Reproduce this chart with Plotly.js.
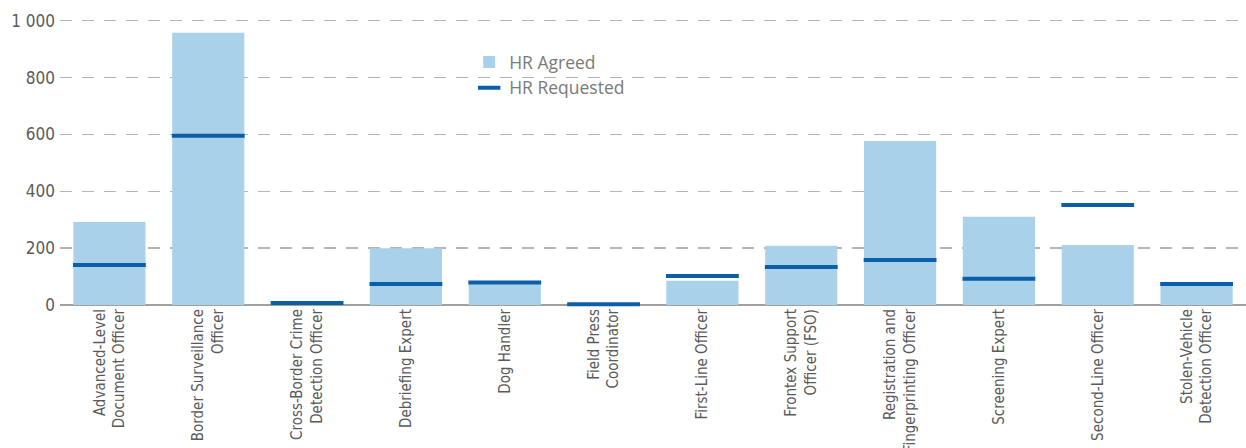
<!DOCTYPE html>
<html><head><meta charset="utf-8">
<script src="https://cdn.plot.ly/plotly-3.0.1.min.js"></script>
<style>body{margin:0;background:#fff}#c{width:1246px;height:448px}</style>
</head><body><div id="c"></div>
<script>
const categories = [
  "Advanced-Level<br>Document Officer",
  "Border Surveillance<br>Officer",
  "Cross-Border Crime<br>Detection Officer",
  "Debriefing Expert",
  "Dog Handler",
  "Field Press<br>Coordinator",
  "First-Line Officer",
  "Frontex Support<br>Officer (FSO)",
  "Registration and<br>Fingerprinting Officer",
  "Screening Expert",
  "Second-Line Officer",
  "Stolen-Vehicle<br>Detection Officer"
];
const hrAgreed    = [292, 958, 4, 200, 77, 1, 85, 208, 577, 310, 211, 70];
const hrRequested = [141, 595, 7, 74, 79, 3, 102, 134, 158, 92, 352, 74];
const yTickVals = [0, 200, 400, 600, 800, 1000];
const yTickText = ["0", "200", "400", "600", "800", "1 000"];

const fam = "'Liberation Sans Narrow', 'DejaVu Sans Condensed', sans-serif";

const data = [
  {type: "bar", name: "HR Agreed", x: categories, y: hrAgreed,
   marker: {color: "#a9d2ea"}, hoverinfo: "y"},
  {type: "scatter", mode: "markers", name: "HR Requested", x: categories, y: hrRequested,
   marker: {symbol: "line-ew-open", size: 52, color: "#0b5ea8", line: {color: "#0b5ea8", width: 4}},
   cliponaxis: false}
];
const layout = {
  width: 1246, height: 448,
  margin: {l: 60, r: 0, t: 15, b: 143},
  paper_bgcolor: "#fff", plot_bgcolor: "#fff",
  bargap: 0.27,
  showlegend: true,
  legend: {x: 0.345, y: 0.9, xanchor: "left", yanchor: "top", bgcolor: "rgba(0,0,0,0)",
           font: {family: "'Open Sans', 'Noto Sans', sans-serif", size: 17.5, color: "#7a7a7a"},
           itemwidth: 30},
  xaxis: {type: "category", tickangle: -90, tickfont: {family: fam, size: 15, color: "#5a5a5a"},
          showgrid: false, showline: false, ticks: "", range: [-0.5, 11.5], automargin: false},
  yaxis: {range: [0, 1020], tickvals: yTickVals, ticktext: yTickText,
          tickfont: {family: fam, size: 17, color: "#5a5a5a"},
          showgrid: true, gridcolor: "#b4b4b4", gridwidth: 1.5, griddash: "12px,10px",
          zeroline: true, zerolinecolor: "#a0a0a0", zerolinewidth: 2.5,
          showline: false, ticks: "", ticklabelstandoff: 4, automargin: false}
};
Plotly.newPlot("c", data, layout, {displayModeBar: false, staticPlot: true});
</script></body></html>
